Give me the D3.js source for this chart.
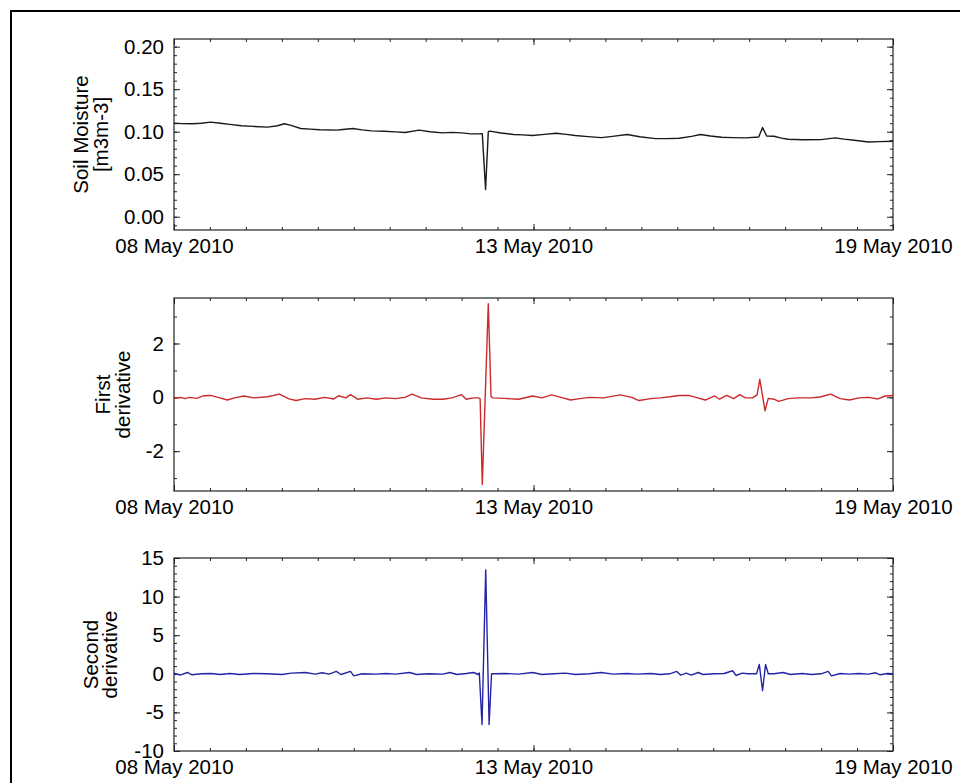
<!DOCTYPE html>
<html lang="en">
<head>
<meta charset="UTF-8">
<title>Soil moisture and derivatives</title>
<style>
    body {
        margin: 0;
        padding: 0;
        background-color: #fff;
    }
    #chart {
        display: block;
    }
    text {
        font-family: "Liberation Sans", Arial, Helvetica, sans-serif;
        font-size: 20.5px;
        fill: #000;
    }
</style>
</head>
<body>
<svg id="chart" width="960" height="783"></svg>

<script src="https://d3js.org/d3.v7.min.js"></script>
<script>
    // time axis: hours since 08 May 2010 00:00
    var startDate = new Date(2010, 4, 8);
    var endDate = new Date(2010, 4, 19);
    var xTickDates = [new Date(2010, 4, 8), new Date(2010, 4, 13, 12), new Date(2010, 4, 19)];

    // soil moisture [m3m-3]
    var moistHours = [0, 3, 6.6, 10, 13.5, 17, 20.5, 24.8, 29, 34.4, 38, 40.5, 43, 46.5, 50, 53.5, 59.6, 62, 65.7, 69,
        72.6, 77, 81.3, 84.8, 90, 94, 98.7, 102, 105.6, 109.1, 111.7, 113.2, 114.4, 115.4, 116, 120, 124.7, 128, 131.7, 136,
        140.3, 144, 147.3, 152, 156.9, 161, 166.4, 171, 176.8, 181, 185.5, 190, 193.3, 197, 201.1, 205, 209.8, 214.7, 216.1, 217.6,
        220.3, 223, 225.5, 231, 237.6, 242.8, 246, 249.8, 255, 259, 264];
    var moistValues = [0.110, 0.1095, 0.1093, 0.1100, 0.1113, 0.1100, 0.1086, 0.1070, 0.1062, 0.1054, 0.1070, 0.1093, 0.1075, 0.1038, 0.1030, 0.1022, 0.1018, 0.1025, 0.1038, 0.1022,
        0.1010, 0.1005, 0.0998, 0.0990, 0.1018, 0.1000, 0.0986, 0.0992, 0.0986, 0.0974, 0.0974, 0.0975, 0.032, 0.1000, 0.1006, 0.0985, 0.0967, 0.0962, 0.0955, 0.0968,
        0.0982, 0.0968, 0.0955, 0.0942, 0.0930, 0.0945, 0.0967, 0.0940, 0.0919, 0.0918, 0.0923, 0.0945, 0.0967, 0.0950, 0.0935, 0.0930, 0.0927, 0.0937, 0.1050, 0.0950,
        0.0947, 0.0925, 0.0911, 0.0905, 0.0907, 0.0927, 0.0912, 0.0899, 0.0879, 0.0883, 0.0887];

    // first derivative
    var firstHours = [0, 2.3, 4.0, 5.7, 8.3, 11.0, 13.5, 16.2, 19.6, 22.2, 25.7, 29.2, 34.4, 38.7, 42.2, 44.8, 48.3, 51.8, 55.2, 58.7,
        60.4, 63.1, 64.8, 67.4, 70.9, 74.3, 77.8, 81.3, 84.8, 87.4, 90.8, 95.2, 98.7, 102.1, 105.6, 107.3, 110.0, 111.7, 112.4, 113.2,
        115.4, 116.4, 116.9, 121.2, 126.5, 131.7, 135.1, 138.6, 142.1, 145.6, 149.0, 152.5, 157.7, 163.8, 168.1, 170.7, 175.1, 178.6, 182.0, 185.5,
        189.0, 191.6, 195.1, 198.5, 200.3, 202.9, 205.5, 207.7, 209.8, 212.4, 214.1, 215.1, 217.0, 218.2, 220.3, 222.0, 225.5, 228.9, 234.1, 237.6,
        241.1, 244.6, 248.0, 251.5, 255.0, 258.5, 261.1, 264];
    var firstValues = [-0.04, 0, -0.05, 0, -0.04, 0.06, 0.07, 0, -0.10, -0.02, 0.05, -0.02, 0.02, 0.12, -0.06, -0.12, -0.05, -0.07, 0, -0.06,
        0.06, -0.02, 0.10, -0.07, -0.02, -0.07, -0.02, -0.05, 0, 0.12, -0.02, -0.07, -0.07, -0.02, 0.10, -0.07, -0.02, -0.02, -0.05, -3.24,
        3.48, 0.05, -0.02, -0.04, -0.07, 0.05, -0.02, 0.09, 0, -0.10, -0.05, 0, -0.02, 0.09, 0, -0.12, -0.05, -0.02, 0.02, 0.07,
        0.07, 0, -0.10, 0.05, -0.07, 0.07, -0.05, 0.10, -0.02, -0.02, 0.09, 0.67, -0.50, -0.04, -0.07, -0.15, -0.05, -0.02, -0.02, 0.02,
        0.12, -0.05, -0.10, -0.02, 0, -0.06, 0.05, 0.07];

    // second derivative
    var secondHours = [0, 2.3, 4.9, 6.6, 10.1, 13.5, 17.0, 20.5, 24.0, 29.2, 34.4, 39.6, 43.1, 48.3, 51.8, 54.4, 57.0, 59.6, 61.3, 64.8,
        66.0, 69.1, 74.3, 77.8, 81.3, 86.5, 89.1, 93.5, 98.7, 101.3, 103.9, 107.3, 110.0, 111.7, 112.1, 113.1, 114.45, 115.7, 116.6, 117.8,
        121.2, 126.5, 131.7, 135.1, 139.5, 143.8, 147.3, 152.5, 156.9, 161.2, 166.4, 169.9, 175.1, 178.6, 182.0, 184.6, 186.0, 188.1, 189.9, 192.5,
        194.2, 198.5, 202.0, 205.1, 206.4, 208.6, 210.7, 213.9, 214.9, 216.1, 217.2, 218.2, 220.3, 223.7, 226.3, 230.7, 234.1, 237.6, 240.2, 241.4,
        244.6, 248.0, 251.5, 255.0, 257.6, 259.3, 261.9, 264];
    var secondValues = [0.09, -0.17, 0.17, -0.13, 0, 0.04, -0.09, 0.04, -0.09, 0.04, 0, -0.09, 0.09, 0.17, -0.04, 0.13, -0.04, 0.31, -0.09, 0.31,
        -0.26, 0, -0.04, 0.04, -0.04, 0.17, -0.09, 0, -0.04, 0.17, -0.09, 0.04, 0.17, -0.09, 0.1, -6.56, 13.46, -6.56, 0, 0,
        0.04, -0.04, 0.17, -0.09, 0, 0.09, -0.09, 0, 0.17, -0.04, 0.04, -0.04, 0.04, -0.09, 0, 0.31, -0.17, 0.09, -0.17, 0.17,
        -0.09, 0, 0.04, 0.39, -0.22, 0.09, 0, 0, 1.22, -2.19, 1.2, 0, 0, 0.17, -0.09, 0.04, -0.09, 0, 0.31, -0.26,
        0.04, -0.04, 0.04, -0.04, 0.13, -0.13, 0.04, 0];

    // y axis tick values per panel
    var moistTicks = [0.00, 0.05, 0.10, 0.15, 0.20];
    var firstTicks = [-2, 0, 2];
    var secondTicks = [-10, -5, 0, 5, 10, 15];

    // plain hyphen minus like the original plot
    var hyphenLocale = d3.formatLocale({decimal: ".", thousands: ",", grouping: [3], currency: ["", ""], minus: "-"});

    var svg = d3.select("#chart");

    // outer frame (runs off the right and bottom of the window)
    svg.append("path")
        .attr("d", "M11,800 L11,11 L980,11")
        .attr("fill", "none")
        .attr("stroke", "#000")
        .attr("stroke-width", 2);

    var left = 174, right = 893;

    var xScale = d3.scaleTime()
        .domain([startDate, endDate])
        .range([left, right]);

    function toDate(h) {
        return new Date(startDate.getTime() + h * 3600 * 1000);
    }

    function drawPanel(opt) {
        var g = svg.append("g");
        var yScale = d3.scaleLinear().domain(opt.domain).range([opt.bottom, opt.top]);

        // minor ticks on all 4 sides
        var xMinor = d3.range(21).map(function(i) {
            return new Date(startDate.getTime() + i * (endDate - startDate) / 20);
        });
        var yMinor = d3.range(Math.ceil(opt.domain[0] / opt.minorStep - 1e-6), Math.floor(opt.domain[1] / opt.minorStep + 1e-6) + 1)
            .map(function(i) { return +(i * opt.minorStep).toFixed(4); });

        var axes = [
            d3.axisBottom(xScale).tickValues(xMinor).tickSize(-3).tickFormat(""),
            d3.axisTop(xScale).tickValues(xMinor).tickSize(-3).tickFormat(""),
            d3.axisBottom(xScale).tickValues(xTickDates).tickSize(-6).tickPadding(8).tickFormat(d3.timeFormat("%d %b %Y")),
            d3.axisTop(xScale).tickValues(xTickDates).tickSize(-6).tickFormat("")
        ];
        var pos = [opt.bottom, opt.top, opt.bottom, opt.top];
        axes.forEach(function(ax, i) {
            g.append("g")
                .attr("transform", "translate(0," + pos[i] + ")")
                .call(ax.tickSizeOuter(0));
        });

        var yAxes = [
            d3.axisLeft(yScale).tickValues(yMinor).tickSize(-3).tickFormat(""),
            d3.axisRight(yScale).tickValues(yMinor).tickSize(-3).tickFormat(""),
            d3.axisLeft(yScale).tickValues(opt.ticks).tickSize(-6).tickPadding(10).tickFormat(opt.format),
            d3.axisRight(yScale).tickValues(opt.ticks).tickSize(-6).tickFormat("")
        ];
        var ypos = [left, right, left, right];
        yAxes.forEach(function(ax, i) {
            g.append("g")
                .attr("transform", "translate(" + ypos[i] + ",0)")
                .call(ax.tickSizeOuter(0));
        });

        g.selectAll(".domain").remove();
        g.selectAll(".tick line").attr("stroke", "#222");
        g.selectAll(".tick text")
            .attr("font-family", null)
            .attr("font-size", null)
            .attr("fill", "#000");

        // frame
        g.append("rect")
            .attr("x", left)
            .attr("y", opt.top)
            .attr("width", right - left)
            .attr("height", opt.bottom - opt.top)
            .attr("fill", "none")
            .attr("stroke", "#222")
            .attr("stroke-width", 1.2);

        // data line
        var line = d3.line()
            .x(function(d) { return xScale(toDate(d[0])); })
            .y(function(d) { return yScale(d[1]); });
        var pts = opt.hours.map(function(h, i) { return [h, opt.values[i]]; });
        g.append("path")
            .datum(pts)
            .attr("d", line)
            .attr("fill", "none")
            .attr("stroke", opt.color)
            .attr("stroke-width", 1.4)
            .attr("stroke-linejoin", "round");

        // y title, two lines rotated
        var cy = (opt.top + opt.bottom) / 2;
        opt.title.forEach(function(t, i) {
            g.append("text")
                .attr("transform", "translate(" + opt.titleX[i] + "," + cy + ") rotate(-90)")
                .attr("text-anchor", "middle")
                .text(t);
        });
    }

    drawPanel({
        top: 39, bottom: 230, domain: [-0.0156, 0.209],
        ticks: moistTicks, minorStep: 0.01, format: hyphenLocale.format(".2f"),
        hours: moistHours, values: moistValues, color: "#1a1a1a",
        title: ["Soil Moisture", "[m3m-3]"], titleX: [88, 108]
    });
    drawPanel({
        top: 298, bottom: 491, domain: [-3.48, 3.69],
        ticks: firstTicks, minorStep: 1, format: hyphenLocale.format("d"),
        hours: firstHours, values: firstValues, color: "#cc2a2a",
        title: ["First", "derivative"], titleX: [110, 130]
    });
    drawPanel({
        top: 558, bottom: 751, domain: [-10, 15],
        ticks: secondTicks, minorStep: 1, format: hyphenLocale.format("d"),
        hours: secondHours, values: secondValues, color: "#2424a8",
        title: ["Second", "derivative"], titleX: [98, 117]
    });
</script>
</body>
</html>
